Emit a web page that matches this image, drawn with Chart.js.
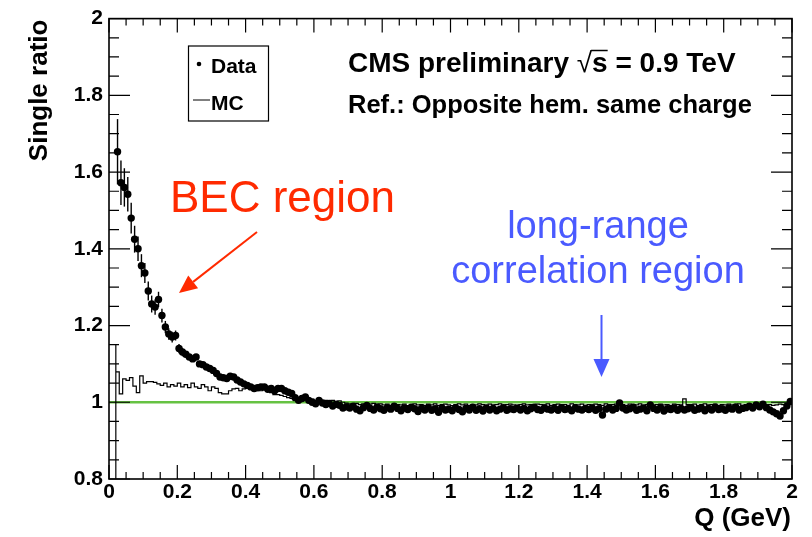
<!DOCTYPE html>
<html>
<head>
<meta charset="utf-8">
<script src="https://cdn.jsdelivr.net/npm/chart.js@4.4.1/dist/chart.umd.min.js"></script>
<style>
html, body { margin: 0; padding: 0; background: #fff; }
#wrap { width: 812px; height: 537px; }
</style>
</head>
<body>
<div id="wrap"><canvas id="c" width="812" height="537"></canvas></div>
<script>
// binning (same for data and MC)
const binStart = 0.02;
const binWidth = 0.01;

// Data, one value per bin (0.02 -> 2.00)
const dataRatio = [
  1.653, 1.572, 1.560, 1.542, 1.480, 1.425, 1.400, 1.356, 1.337, 1.290,
  1.256, 1.248, 1.268, 1.226, 1.196, 1.178, 1.170, 1.174, 1.140, 1.131,
  1.125, 1.118, 1.113, 1.118, 1.100, 1.098, 1.092, 1.088, 1.083, 1.075,
  1.066, 1.064, 1.062, 1.068, 1.066, 1.058, 1.053, 1.048, 1.044, 1.040,
  1.036, 1.038, 1.040, 1.040, 1.034, 1.036, 1.030, 1.036, 1.036, 1.030,
  1.026, 1.023, 1.012, 1.005, 1.010, 1.014, 1.005, 1.000, 0.996, 1.005,
  0.998, 0.994, 0.997, 0.990, 0.995, 0.992, 0.985, 0.988,
  0.985, 0.990, 0.982, 0.978, 0.986, 0.992, 0.984, 0.980, 0.988, 0.983,
  0.979, 0.986, 0.982, 0.990, 0.984, 0.978, 0.985, 0.981, 0.987, 0.983,
  0.976, 0.984, 0.980, 0.986, 0.979, 0.983, 0.974, 0.985, 0.980, 0.982,
  0.978, 0.986, 0.981, 0.975, 0.984, 0.980, 0.987, 0.979, 0.983, 0.977,
  0.985, 0.980, 0.984, 0.978, 0.982, 0.986, 0.979, 0.983, 0.981, 0.985,
  0.980, 0.984, 0.978, 0.983, 0.987, 0.981, 0.979, 0.985, 0.982, 0.980,
  0.984, 0.979, 0.986, 0.981, 0.983, 0.978, 0.985, 0.982, 0.980, 0.984,
  0.981, 0.985, 0.979, 0.983, 0.967, 0.982, 0.986, 0.980, 0.984, 0.998,
  0.985, 0.980, 0.983, 0.987, 0.979, 0.982, 0.985, 0.978, 0.993, 0.984,
  0.980, 0.986, 0.977, 0.983, 0.981, 0.985, 0.979, 0.984, 0.980, 0.983,
  0.986, 0.979, 0.982, 0.985, 0.978, 0.984, 0.980, 0.987, 0.981, 0.983,
  0.979, 0.985, 0.982, 0.988, 0.980, 0.984, 0.986, 0.990, 0.985, 0.993,
  0.988, 0.995, 0.986, 0.980, 0.975, 0.970, 0.964, 0.978, 0.990, 1.002
];
// errors of the first points (the rest are hidden by the markers)
const dataErr = [
  0.085, 0.058, 0.050, 0.045, 0.040, 0.035, 0.032, 0.030, 0.026, 0.025,
  0.022, 0.020, 0.020, 0.018, 0.016, 0.015, 0.014, 0.013, 0.012, 0.011
];

// MC histogram, one value per bin
const mcRatio = [
  1.152, 1.079, 1.022, 1.061, 1.057, 1.064, 1.042, 1.025, 1.069, 1.050,
  1.054, 1.054, 1.052, 1.048, 1.044, 1.050, 1.040, 1.046, 1.042, 1.050,
  1.040, 1.046, 1.038, 1.050, 1.040, 1.036, 1.046, 1.040, 1.030, 1.040,
  1.036, 1.025, 1.022, 1.022, 1.030, 1.035, 1.036, 1.030, 1.035, 1.038,
  1.040, 1.034, 1.036, 1.030, 1.032, 1.030, 1.025, 1.020, 1.020, 1.018,
  1.015, 1.012, 1.010, 1.010, 1.012, 1.008, 1.010, 1.006, 1.008, 1.005,
  1.006, 1.004, 1.005, 1.003, 1.005, 1.002, 1.004, 1.000, 0.998, 0.996,
  0.995, 0.997, 0.994, 0.996, 0.993, 0.995, 0.997, 0.994, 0.996, 0.993,
  0.995, 0.992, 0.996, 0.994, 0.993, 0.995, 0.991, 0.994, 0.996, 0.993,
  0.994, 0.992, 0.995, 0.993, 0.996, 0.992, 0.994, 0.995, 0.993, 0.991,
  0.994, 0.996, 0.993, 0.995, 0.992, 0.994, 0.993, 0.996, 0.994, 0.992,
  0.995, 0.993, 0.994, 0.996, 0.992, 0.994, 0.995, 0.993, 0.991, 0.994,
  0.996, 0.993, 0.994, 0.992, 0.995, 0.994, 0.993, 0.996, 0.992, 0.994,
  0.995, 0.993, 0.994, 0.992, 0.996, 0.994, 0.993, 0.995, 0.992, 0.994,
  0.993, 0.995, 0.994, 0.992, 0.996, 0.993, 0.994, 0.995, 0.993, 0.994,
  0.992, 0.995, 0.994, 0.993, 0.996, 0.992, 0.994, 0.995, 0.993, 0.994,
  0.995, 0.993, 0.994, 0.992, 0.995, 0.994, 0.993, 1.009, 0.994, 0.993,
  0.995, 0.992, 0.994, 0.996, 0.993, 0.994, 0.995, 0.992, 0.994, 0.993,
  0.995, 0.993, 0.994, 0.996, 0.992, 0.994, 0.995, 0.993, 0.994, 0.992,
  0.995, 0.993, 0.994, 0.992, 0.993, 0.995, 0.994, 0.996
];

const refLine = [1, 1];
const xTickLabels = ['0', '0.2', '0.4', '0.6', '0.8', '1', '1.2', '1.4', '1.6', '1.8', '2'];
const yTickLabels = ['0.8', '1', '1.2', '1.4', '1.6', '1.8', '2'];

const FONT = "'Liberation Sans', Arial, Helvetica, sans-serif";

// build the point lists
const dataPts = dataRatio.map((v, i) => ({ x: binStart + (i + 0.5) * binWidth, y: v }));
const mcPts = [{ x: binStart, y: 0.8 }];
mcRatio.forEach((v, i) => mcPts.push({ x: binStart + i * binWidth, y: v }));
mcPts.push({ x: binStart + mcRatio.length * binWidth, y: mcRatio[mcRatio.length - 1] });
const refPts = [{ x: 0, y: refLine[0] }, { x: 2, y: refLine[1] }];

function arrow(ctx, x1, y1, x2, y2, color) {
    const ang = Math.atan2(y2 - y1, x2 - x1);
    const hl = 18, hw = 8;
    const bx = x2 - hl * Math.cos(ang), by = y2 - hl * Math.sin(ang);
    ctx.strokeStyle = color;
    ctx.fillStyle = color;
    ctx.lineWidth = 2;
    ctx.beginPath();
    ctx.moveTo(x1, y1);
    ctx.lineTo(bx, by);
    ctx.stroke();
    ctx.beginPath();
    ctx.moveTo(x2, y2);
    ctx.lineTo(bx + hw * Math.sin(ang), by - hw * Math.cos(ang));
    ctx.lineTo(bx - hw * Math.sin(ang), by + hw * Math.cos(ang));
    ctx.closePath();
    ctx.fill();
}

// error bars on the data
const errorBars = {
    id: 'errorBars',
    afterDatasetsDraw(chart) {
        const ctx = chart.ctx;
        const y = chart.scales.y;
        const meta = chart.getDatasetMeta(0);
        ctx.save();
        ctx.strokeStyle = '#000';
        ctx.lineWidth = 1.4;
        dataErr.forEach((e, i) => {
            const pt = meta.data[i];
            const v = dataRatio[i];
            ctx.beginPath();
            ctx.moveTo(pt.x, y.getPixelForValue(v - e));
            ctx.lineTo(pt.x, y.getPixelForValue(v + e));
            ctx.stroke();
        });
        ctx.restore();
    }
};

// ROOT style frame, ticks, titles and labels
const rootFrame = {
    id: 'rootFrame',
    afterDraw(chart) {
        const { ctx, chartArea: a } = chart;
        const x = chart.scales.x, y = chart.scales.y;
        ctx.save();
        ctx.strokeStyle = '#000';
        ctx.lineWidth = 1.2;
        ctx.beginPath();
        for (let k = 0; k <= 40; k++) {
            const px = x.getPixelForValue(k * 0.05);
            const len = k % 4 === 0 ? 14 : 7;
            ctx.moveTo(px, a.bottom); ctx.lineTo(px, a.bottom - len);
            ctx.moveTo(px, a.top); ctx.lineTo(px, a.top + len);
        }
        for (let k = 0; k <= 24; k++) {
            const py = y.getPixelForValue(0.8 + k * 0.05);
            const len = k % 4 === 0 ? 21 : 10;
            ctx.moveTo(a.left, py); ctx.lineTo(a.left + len, py);
            ctx.moveTo(a.right, py); ctx.lineTo(a.right - len, py);
        }
        ctx.stroke();
        ctx.lineWidth = 1.6;
        ctx.strokeRect(a.left, a.top, a.right - a.left, a.bottom - a.top);

        // axis titles
        ctx.fillStyle = '#000';
        ctx.font = 'bold 26px ' + FONT;
        ctx.textAlign = 'right';
        ctx.textBaseline = 'alphabetic';
        ctx.fillText('Q (GeV)', a.right - 1, 526);
        ctx.save();
        ctx.translate(47, a.top + 1);
        ctx.rotate(-Math.PI / 2);
        ctx.fillText('Single ratio', 0, 0);
        ctx.restore();

        // legend
        ctx.lineWidth = 1.2;
        ctx.strokeRect(188.5, 46, 80, 75);
        ctx.beginPath();
        ctx.arc(199, 64, 2.3, 0, Math.PI * 2);
        ctx.fill();
        ctx.lineWidth = 1;
        ctx.beginPath();
        ctx.moveTo(193, 100); ctx.lineTo(210, 100);
        ctx.stroke();
        ctx.textAlign = 'left';
        ctx.font = 'bold 21px ' + FONT;
        ctx.fillText('Data', 211, 73);
        ctx.fillText('MC', 211, 110);

        // CMS label
        ctx.font = 'bold 28px ' + FONT;
        let tx = 348;
        const t1 = 'CMS preliminary ';
        ctx.fillText(t1, tx, 72);
        tx += ctx.measureText(t1).width;
        ctx.font = '28px ' + FONT;
        ctx.fillText('\u221A', tx, 72);
        tx += ctx.measureText('\u221A').width;
        ctx.font = 'bold 28px ' + FONT;
        const sw = ctx.measureText('s').width;
        ctx.fillText('s', tx, 72);
        ctx.lineWidth = 1.5;
        ctx.beginPath();
        ctx.moveTo(tx - 1, 50.5); ctx.lineTo(tx + sw, 50.5);
        ctx.stroke();
        tx += sw;
        ctx.fillText(' = 0.9 TeV', tx, 72);
        ctx.font = 'bold 25.5px ' + FONT;
        ctx.fillText('Ref.: Opposite hem. same charge', 348, 113);

        // annotations
        ctx.fillStyle = '#ff2a00';
        ctx.font = '44px ' + FONT;
        ctx.fillText('BEC region', 170, 212);
        arrow(ctx, 257, 232, 179, 293, '#ff2a00');

        ctx.fillStyle = '#4a5aff';
        ctx.font = '38px ' + FONT;
        ctx.textAlign = 'center';
        ctx.fillText('long-range', 598, 238);
        ctx.fillText('correlation region', 598, 283);
        arrow(ctx, 601.5, 315, 601.5, 377, '#4a5aff');
        ctx.restore();
    }
};

new Chart(document.getElementById('c'), {
    type: 'scatter',
    data: {
        datasets: [
            {
                label: 'Data',
                data: dataPts,
                showLine: false,
                pointRadius: 3.7,
                pointBackgroundColor: '#000',
                pointBorderWidth: 0,
                order: 0
            },
            {
                label: 'MC',
                type: 'line',
                data: mcPts,
                showLine: true,
                stepped: 'after',
                borderColor: '#000',
                borderWidth: 1.2,
                pointRadius: 0,
                fill: false,
                order: 1
            },
            {
                label: 'ref',
                type: 'line',
                data: refPts,
                showLine: true,
                borderColor: '#66c243',
                borderWidth: 2.5,
                pointRadius: 0,
                fill: false,
                order: 2
            }
        ]
    },
    options: {
        responsive: false,
        animation: false,
        devicePixelRatio: 1,
        layout: { padding: { top: 17, right: 20, left: 0, bottom: 0 } },
        plugins: { legend: { display: false }, tooltip: { enabled: false } },
        scales: {
            x: {
                type: 'linear',
                min: 0, max: 2,
                grid: { display: false, drawTicks: false },
                border: { display: false },
                ticks: {
                    stepSize: 0.2, autoSkip: false, maxRotation: 0, padding: 1,
                    color: '#000',
                    font: { family: FONT, size: 21, weight: 'bold' },
                    callback: v => xTickLabels[Math.round(v / 0.2)]
                },
                afterFit: s => { s.height = 58; }
            },
            y: {
                type: 'linear',
                min: 0.8, max: 2,
                grid: { display: false, drawTicks: false },
                border: { display: false },
                ticks: {
                    stepSize: 0.2, autoSkip: false, padding: 6,
                    color: '#000',
                    font: { family: FONT, size: 21, weight: 'bold' },
                    callback: v => yTickLabels[Math.round((v - 0.8) / 0.2)]
                },
                afterFit: s => { s.width = 109; }
            }
        }
    },
    plugins: [errorBars, rootFrame]
});
</script>
</body>
</html>
